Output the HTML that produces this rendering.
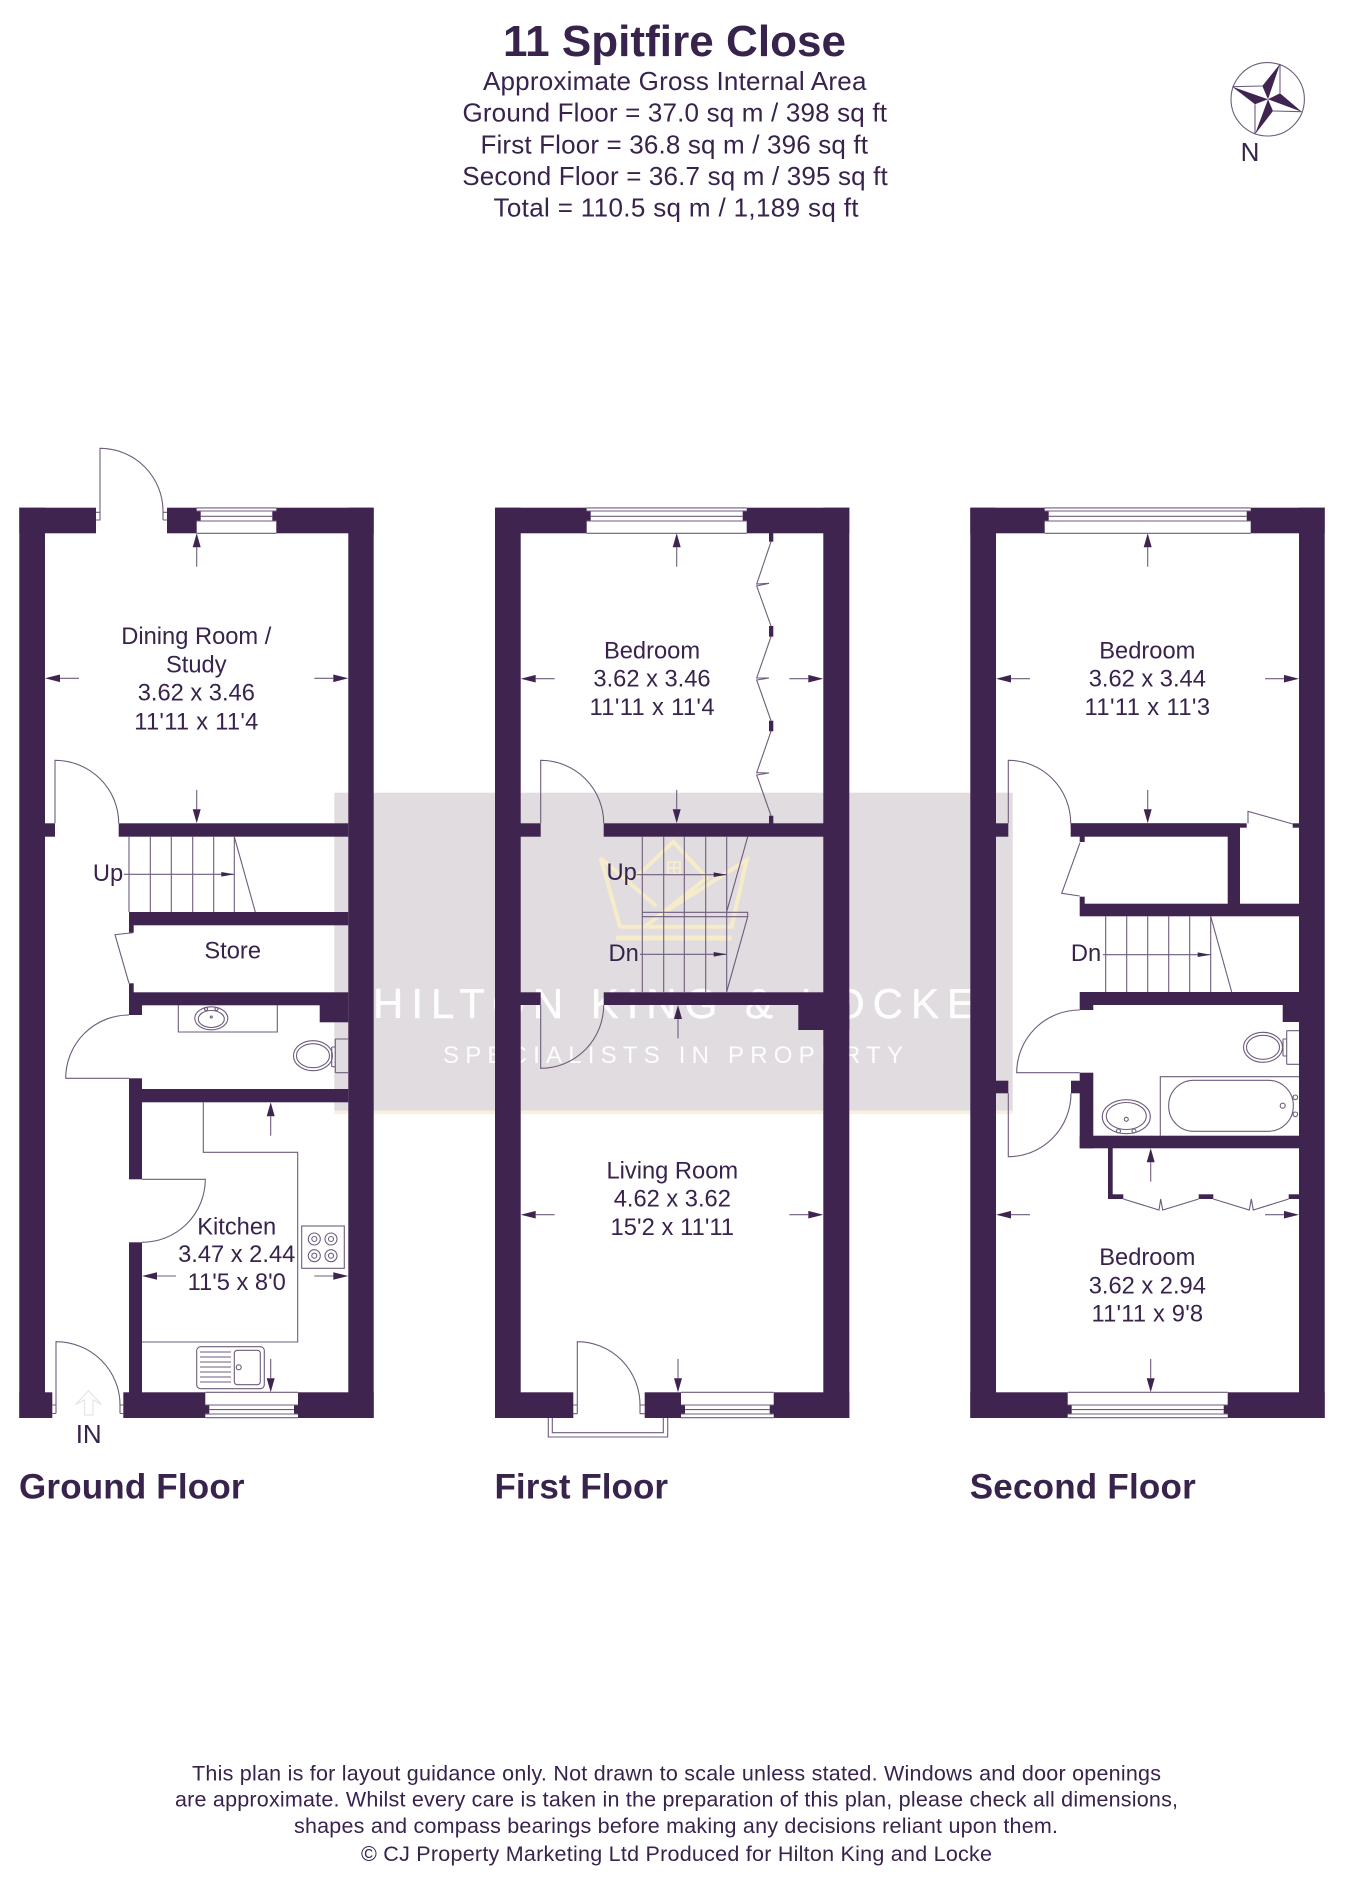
<!DOCTYPE html>
<html lang="en">
<head>
<meta charset="utf-8">
<title>11 Spitfire Close floor plan</title>
<style>
html,body{margin:0;padding:0;background:#fff}
svg{display:block}
text{font-family:"Liberation Sans",Arial,sans-serif;fill:#38234d}
.c{text-anchor:middle}
.r{font-size:23.7px}
.h{font-size:26px}
.f{font-size:21.5px}
.t{font-size:35px;font-weight:bold}
.w rect{fill:#402450}
.l{fill:none;stroke:#6e5c7c;stroke-width:1.1}
.wm{fill:#fff;fill-opacity:.92}
</style>
</head>
<body>
<svg xmlns="http://www.w3.org/2000/svg" width="1350" height="1879" viewBox="0 0 1350 1879">
<defs>
<g id="au"><path d="M0 0L4 14L-4 14Z" fill="#402450"/><path d="M0 14V33.4" stroke="#6e5c7c" stroke-width="1.1"/></g>
<g id="ad"><path d="M0 0L4 -14L-4 -14Z" fill="#402450"/><path d="M0 -14V-33.4" stroke="#6e5c7c" stroke-width="1.1"/></g>
<g id="al"><path d="M0 0L15 -3.8L15 3.8Z" fill="#402450"/><path d="M15 0H34" stroke="#6e5c7c" stroke-width="1.1"/></g>
<g id="ar"><path d="M0 0L-15 -3.8L-15 3.8Z" fill="#402450"/><path d="M-15 0H-34" stroke="#6e5c7c" stroke-width="1.1"/></g>
<path id="as" d="M0 0L-13 -2.3L-13 2.3Z" fill="#402450"/>
</defs>
<rect width="1350" height="1879" fill="#fff"/>

<!-- watermark -->
<rect x="334.3" y="792.7" width="678.4" height="318" fill="#e0dcdf"/>
<rect x="334.3" y="1110.7" width="678.4" height="3.5" fill="#f8f1dc"/>
<g fill="none" stroke="#f6ecc9" stroke-width="4">
<path d="M600.7 858L620 926.7H731.7L746.7 860L663 913"/>
<path d="M600.7 858L656 906M636.7 876.7L673.3 841.7L706.7 878L645 926.7"/>
<path d="M616 938H731.7" stroke-width="5"/>
<path d="M668 862h12v12h-12zM674 862v12M668 868h12" stroke-width="2"/>
</g>
<text class="wm" x="373" y="1018" font-size="42" textLength="602" lengthAdjust="spacing" style="fill:#fff;stroke:#fff;stroke-width:.4">HILTON KING &amp; LOCKE</text>
<text class="wm" x="443" y="1063" font-size="24" textLength="460" lengthAdjust="spacing" style="fill:#fff">SPECIALISTS IN PROPERTY</text>

<!-- walls -->
<g class="w">
<!-- ground -->
<rect x="19.3" y="507.7" width="76.7" height="25.6"/>
<rect x="167" y="507.7" width="206.7" height="25.6"/>
<rect x="19.3" y="507.7" width="25.7" height="910.3"/>
<rect x="348.3" y="507.7" width="25.4" height="910.3"/>
<rect x="19.3" y="1392.3" width="33" height="25.7"/>
<rect x="123.3" y="1392.3" width="250.4" height="25.7"/>
<rect x="45" y="823.3" width="10" height="13.4"/>
<rect x="118.7" y="823.3" width="229.6" height="13.4"/>
<rect x="129" y="912" width="219.3" height="13.3"/>
<rect x="129" y="912" width="4.7" height="20.7"/>
<rect x="129" y="983.3" width="4.7" height="22"/>
<rect x="129" y="992.3" width="219.3" height="13"/>
<rect x="129" y="1005" width="13" height="10"/>
<rect x="319.7" y="1005" width="28.6" height="17.3"/>
<rect x="129" y="1078.3" width="13" height="24"/>
<rect x="129" y="1089" width="219.3" height="13.3"/>
<rect x="129" y="1089" width="13" height="90.3"/>
<rect x="129" y="1242.3" width="13" height="150.5"/>
<!-- first -->
<rect x="495" y="507.7" width="354.3" height="25.6"/>
<rect x="495" y="507.7" width="25.7" height="910.3"/>
<rect x="823.3" y="507.7" width="26" height="910.3"/>
<rect x="495" y="1392.3" width="78.3" height="25.7"/>
<rect x="644.7" y="1392.3" width="204.6" height="25.7"/>
<rect x="520" y="823.3" width="20.7" height="13.4"/>
<rect x="603.7" y="823.3" width="220" height="13.4"/>
<rect x="520" y="992.3" width="20.7" height="12.7"/>
<rect x="603.7" y="992.3" width="220" height="12.7"/>
<rect x="798.3" y="1004.5" width="51" height="25.5"/>
<rect x="769" y="533" width="4.3" height="8.7"/>
<rect x="769" y="626" width="4.3" height="10.7"/>
<rect x="769" y="720.7" width="4.3" height="10.6"/>
<rect x="769" y="815.7" width="4.3" height="8"/>
<!-- second -->
<rect x="970.3" y="507.7" width="354.4" height="25.6"/>
<rect x="970.3" y="507.7" width="25.7" height="910.3"/>
<rect x="1299" y="507.7" width="25.7" height="910.3"/>
<rect x="970.3" y="1392.3" width="354.4" height="25.7"/>
<rect x="996" y="823.3" width="12.3" height="13.4"/>
<rect x="1070.7" y="823.3" width="169.3" height="13.4"/>
<rect x="1070.7" y="823.3" width="176" height="4.4"/>
<rect x="1292.7" y="823.3" width="6.3" height="4.4"/>
<rect x="1227.7" y="836" width="12.3" height="68"/>
<rect x="1079.7" y="836" width="5" height="6"/>
<rect x="1079.7" y="896.7" width="5" height="7.5"/>
<rect x="1079.7" y="903.7" width="219.3" height="12.6"/>
<rect x="1079.7" y="992" width="219.3" height="13"/>
<rect x="1079.7" y="1004.5" width="13.6" height="5.5"/>
<rect x="1282.7" y="1004.5" width="16.3" height="17.5"/>
<rect x="1079.7" y="1072.7" width="13.6" height="75.6"/>
<rect x="1071" y="1080.7" width="9" height="12.6"/>
<rect x="996" y="1080.7" width="12.3" height="12.6"/>
<rect x="1079.7" y="1135.7" width="219.3" height="12.6"/>
<rect x="1108" y="1148" width="4.7" height="51"/>
<rect x="1108" y="1194.3" width="15.3" height="4.7"/>
<rect x="1198.7" y="1194.3" width="14.6" height="4.7"/>
<rect x="1288.7" y="1194.3" width="10.3" height="4.7"/>
</g>

<!-- windows -->
<g fill="#fff" stroke="none">
<path d="M196.7 507.7H276.3V511H272.3V521H276.3V533.3H196.7V521H200.7V511H196.7Z"/>
<path d="M586.7 507.7H746.7V511H742.7V521H746.7V533.3H586.7V521H590.7V511H586.7Z"/>
<path d="M1044.7 507.7H1250.7V511H1246.7V521H1250.7V533.3H1044.7V521H1048.7V511H1044.7Z"/>
<path d="M205.3 1392.3H298V1405H294V1414H298V1418H205.3V1414H209.3V1405H205.3Z"/>
<path d="M681 1392.3H773.7V1405H769.7V1414H773.7V1418H681V1414H685V1405H681Z"/>
<path d="M1067.7 1392.3H1227.7V1405H1223.7V1414H1227.7V1418H1067.7V1414H1071.7V1405H1067.7Z"/>
</g>
<path class="l" d="M196.7 507.9H276.3M196.7 511H276.3M200.7 516.3H272.3M196.7 521H276.3M196.7 533.3H276.3
M586.7 507.9H746.7M586.7 511H746.7M590.7 516.3H742.7M586.7 521H746.7M586.7 533.3H746.7
M1044.7 507.9H1250.7M1044.7 511H1250.7M1048.7 516.3H1246.7M1044.7 521H1250.7M1044.7 533.3H1250.7
M205.3 1392.3H298M205.3 1405H298M209.3 1409.6H294M205.3 1414H298M205.3 1417.7H298
M681 1392.3H773.7M681 1405H773.7M685 1409.6H769.7M681 1414H773.7M681 1417.7H773.7
M1067.7 1392.3H1227.7M1067.7 1405H1227.7M1071.7 1409.6H1223.7M1067.7 1414H1227.7M1067.7 1417.7H1227.7"/>

<!-- ground floor lines -->
<path class="l" d="M100 520V448.3A63 63 0 0 1 163 511.3V520M96 512.3H100V520H96M163 512.3H167M163 520H167
M55 823.3V760.3A63.7 63 0 0 1 118.7 823.3
M129 836.7V912M150.3 836.7V912M171.3 836.7V912M192.7 836.7V912M213.7 836.7V912M234.3 836.7V912M234.3 836.7L255.3 912
M124 874.3H234
M133 932.7L115 934.7L129 983.3
M129 1078.3H65.7A63.3 63.3 0 0 1 129 1015
M178.3 1005.3V1032H277.3V1005.3
M335.3 1039H348M335.3 1072.7H348M335.3 1039V1072.7M331.7 1047V1066.7M331.7 1047H335.3M331.7 1066.7H335.3
M203.3 1102.3V1152.3H297.7V1342H142
M142 1179.3H205.3A63.3 63 0 0 1 142 1242.3
M56 1413.5V1341.7A64 63.3 0 0 1 120 1405V1413.5M52.3 1405H56M52.3 1413.5H56M120 1405H123.3M120 1413.5H123.3
M200 1352H231M200 1357H231M200 1362H231M200 1367H231M200 1372H231M200 1377H231M200 1382H231"/>
<g class="l">
<ellipse cx="211.3" cy="1018.3" rx="16.5" ry="11.5"/>
<ellipse cx="211.3" cy="1019" rx="13" ry="8.5"/>
<circle cx="206" cy="1009" r="1.5"/><circle cx="216.5" cy="1009" r="1.5"/><circle cx="211.3" cy="1017" r="1"/>
<ellipse cx="313" cy="1055.7" rx="19.5" ry="15"/>
<ellipse cx="313" cy="1055.7" rx="16.5" ry="12"/>
<rect x="301.7" y="1226" width="42.6" height="42.3"/>
<circle cx="314.3" cy="1239" r="6"/><circle cx="314.3" cy="1239" r="2.5"/>
<circle cx="331" cy="1239" r="6"/><circle cx="331" cy="1239" r="2.5"/>
<circle cx="314.3" cy="1255.7" r="6"/><circle cx="314.3" cy="1255.7" r="2.5"/>
<circle cx="331" cy="1255.7" r="6"/><circle cx="331" cy="1255.7" r="2.5"/>
<rect x="196.7" y="1346.7" width="67.6" height="42" rx="4"/>
<rect x="234.3" y="1350.3" width="26" height="34.4" rx="3"/>
<circle cx="238.7" cy="1367.3" r="2.5"/>
</g>
<path d="M88.5 1390.7L101.5 1404.5L93 1400V1415H84.5V1400L75.5 1404.5Z" fill="none" stroke="#e6e4e8" stroke-width="1.2"/>

<!-- first floor lines -->
<path class="l" d="M771 541.7L756.7 584L769 583.3L756.7 586L771 626
M771 636.7L756.7 678L769 678L756.7 680L771 720.7
M771 731.3L756.7 772.7L769 773L756.7 775L771 815.7
M540.7 823.3V760.3A63 63 0 0 1 603.7 823.3
M540.7 1005V1068.3A63 63.3 0 0 0 603.7 1005
M642.3 836.7V992M663.7 836.7V992M684.3 836.7V992M705.7 836.7V992M726.7 836.7V992
M747.7 836.7L726.7 911.7M642.3 912.3H747.7V916.7H642.3M747.7 916.7L726.7 991.7
M636.7 874.7H726.7M640 954.3H726.7
M573.3 1405H577.3M573.3 1413.7H577.3M577.3 1413.7V1341.7A62.7 63.3 0 0 1 640 1405V1413.7M640 1405H644.7M640 1413.7H644.7
M548.3 1418V1437H667.7V1418M552.3 1418V1432.7H663.3V1418"/>

<!-- second floor lines -->
<path class="l" d="M1008.3 823.3V760.3A62.4 63 0 0 1 1070.7 823.3
M1248 823.3V811.3L1292.7 824
M1080 842.7L1061.7 893.3L1079.7 896
M1105.7 916.3V992M1126.7 916.3V992M1147.7 916.3V992M1168.7 916.3V992M1189.7 916.3V992M1210.7 916.3V992M1210.7 916.3L1231.7 992
M1103 954.7H1210.7
M1079.7 1072.7H1016.7A63 62.7 0 0 1 1079.7 1010
M1008.3 1093.3V1156.7A62.7 63.4 0 0 0 1071 1093.3
M1286.7 1030.7H1299M1286.7 1064.3H1299M1286.7 1030.7V1064.3M1283 1039V1056M1283 1039H1286.7M1283 1056H1286.7
M1160.3 1135.7V1076.7H1299
M1123.3 1199L1159 1210L1160.7 1199L1162.7 1210L1198.7 1199
M1213.3 1199L1249.3 1210L1251.3 1199L1253.3 1210L1288.7 1199"/>
<g class="l">
<ellipse cx="1263" cy="1047.3" rx="19.5" ry="15"/>
<ellipse cx="1263" cy="1047.3" rx="16.5" ry="12"/>
<rect x="1168.7" y="1080.3" width="124.6" height="51" rx="25"/>
<circle cx="1295.3" cy="1097.3" r="2.3"/><circle cx="1295.3" cy="1114.3" r="2.3"/><circle cx="1282.7" cy="1105.7" r="2.5"/>
<ellipse cx="1126.3" cy="1116.7" rx="24" ry="17"/>
<ellipse cx="1126.3" cy="1116" rx="20" ry="13.5"/>
<circle cx="1118.5" cy="1131" r="2"/><circle cx="1134" cy="1131" r="2"/><circle cx="1126.3" cy="1119.3" r="2"/>
</g>

<!-- arrows -->
<use href="#au" x="196.7" y="533.3"/><use href="#ad" x="196.7" y="823.3"/>
<use href="#al" x="45" y="678.3"/><use href="#ar" x="348.3" y="678.3"/>
<use href="#au" x="270.7" y="1102.3"/><use href="#ad" x="270.7" y="1392.3"/>
<use href="#al" x="142" y="1276"/><use href="#ar" x="348.3" y="1276"/>
<use href="#as" x="234.3" y="874.3"/>

<use href="#au" x="676.7" y="533.3"/><use href="#ad" x="676.7" y="823.3"/>
<use href="#al" x="520.7" y="678.7"/><use href="#ar" x="823.3" y="678.7"/>
<use href="#au" x="678" y="1005"/><use href="#ad" x="678" y="1392.3"/>
<use href="#al" x="520.7" y="1214.7"/><use href="#ar" x="823.3" y="1214.7"/>
<use href="#as" x="726.7" y="874.7"/><use href="#as" x="726.7" y="954.3"/>

<use href="#au" x="1147.7" y="533.3"/><use href="#ad" x="1147.7" y="823.3"/>
<use href="#al" x="996" y="678.7"/><use href="#ar" x="1299" y="678.7"/>
<use href="#au" x="1150.7" y="1148.3"/><use href="#ad" x="1150.7" y="1392.3"/>
<use href="#al" x="996" y="1214.7"/><use href="#ar" x="1299" y="1214.7"/>
<use href="#as" x="1210.7" y="954.7"/>

<!-- compass -->
<circle cx="1267.7" cy="99.3" r="36.7" fill="none" stroke="#6e5c7c" stroke-width="1.1"/>
<path class="l" d="M1280 64V93.3M1301.7 111.7L1273 111M1255 134.3V104.3M1232.3 86.7L1262.3 86"/>
<path fill="#402450" d="M1268 99.3L1280 64L1262.3 86ZM1268 99.3L1301.7 111.7L1280 93.3ZM1268 99.3L1255 134.3L1273 111ZM1268 99.3L1232.3 86.7L1255 104.3Z"/>
<text class="c" x="1250" y="161" font-size="26">N</text>

<!-- header text -->
<text class="c" x="674.5" y="56" font-size="44" font-weight="bold" textLength="343" lengthAdjust="spacing">11 Spitfire Close</text>
<text class="c h" x="674.7" y="90" textLength="383.5" lengthAdjust="spacing">Approximate Gross Internal Area</text>
<text class="c h" x="674.7" y="121.7" textLength="424.5" lengthAdjust="spacing">Ground Floor = 37.0 sq m / 398 sq ft</text>
<text class="c h" x="674.2" y="153.3" textLength="387.5" lengthAdjust="spacing">First Floor = 36.8 sq m / 396 sq ft</text>
<text class="c h" x="675" y="185" textLength="425.5" lengthAdjust="spacing">Second Floor = 36.7 sq m / 395 sq ft</text>
<text class="c h" x="676" y="216.7" textLength="365" lengthAdjust="spacing">Total = 110.5 sq m / 1,189 sq ft</text>

<!-- room labels -->
<g class="r">
<text class="c r" x="196.3" y="644" textLength="150" lengthAdjust="spacing">Dining Room /</text>
<text class="c r" x="196.3" y="672.7">Study</text>
<text class="c r" x="196.3" y="700.7">3.62 x 3.46</text>
<text class="c r" x="196.3" y="729.3" textLength="124" lengthAdjust="spacing">11'11 x 11'4</text>
<text class="c r" x="108" y="881">Up</text>
<text class="c r" x="232.7" y="958.7">Store</text>
<text class="c r" x="236.7" y="1234.3">Kitchen</text>
<text class="c r" x="236.7" y="1262">3.47 x 2.44</text>
<text class="c r" x="236.7" y="1290">11'5 x 8'0</text>
<text class="c" x="88.7" y="1443" font-size="26">IN</text>

<text class="c r" x="652" y="658.3">Bedroom</text>
<text class="c r" x="652" y="686.7">3.62 x 3.46</text>
<text class="c r" x="652" y="715" textLength="125" lengthAdjust="spacing">11'11 x 11'4</text>
<text class="c r" x="621.7" y="880">Up</text>
<text class="c r" x="623.7" y="961">Dn</text>
<text class="c r" x="672.3" y="1178.3">Living Room</text>
<text class="c r" x="672.3" y="1206.7">4.62 x 3.62</text>
<text class="c r" x="672.3" y="1235" textLength="123.6" lengthAdjust="spacing">15'2 x 11'11</text>

<text class="c r" x="1147.3" y="658.3">Bedroom</text>
<text class="c r" x="1147.3" y="686.7">3.62 x 3.44</text>
<text class="c r" x="1147.3" y="715" textLength="125.5" lengthAdjust="spacing">11'11 x 11'3</text>
<text class="c r" x="1086" y="961">Dn</text>
<text class="c r" x="1147.3" y="1265">Bedroom</text>
<text class="c r" x="1147.3" y="1293.3">3.62 x 2.94</text>
<text class="c r" x="1147.3" y="1321.7" textLength="111.6" lengthAdjust="spacing">11'11 x 9'8</text>
</g>

<!-- floor titles -->
<text class="t" x="19" y="1498.3" textLength="225.5" lengthAdjust="spacing">Ground Floor</text>
<text class="t" x="494.5" y="1498.3" textLength="173.5" lengthAdjust="spacing">First Floor</text>
<text class="t" x="969.7" y="1498.3" textLength="226" lengthAdjust="spacing">Second Floor</text>

<!-- footer -->
<text class="c f" x="676.5" y="1780.7" textLength="969" lengthAdjust="spacing">This plan is for layout guidance only. Not drawn to scale unless stated. Windows and door openings</text>
<text class="c f" x="676.5" y="1806.7" textLength="1003" lengthAdjust="spacing">are approximate. Whilst every care is taken in the preparation of this plan, please check all dimensions,</text>
<text class="c f" x="676" y="1833" textLength="764" lengthAdjust="spacing">shapes and compass bearings before making any decisions reliant upon them.</text>
<text class="c f" x="676.5" y="1861" textLength="631" lengthAdjust="spacing">© CJ Property Marketing Ltd Produced for Hilton King and Locke</text>
</svg>
</body>
</html>
